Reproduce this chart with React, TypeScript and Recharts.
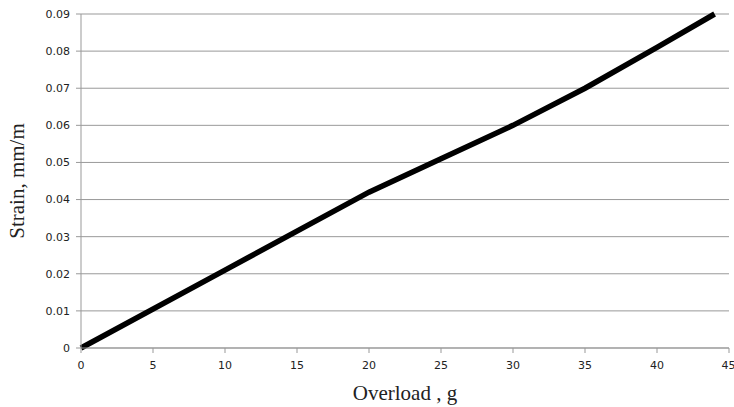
import { LineChart, Line, XAxis, YAxis, CartesianGrid, Label } from 'recharts';

const overload = [0, 10, 20, 25, 30, 35, 40, 44];
const strain = [0, 0.021, 0.042, 0.051, 0.06, 0.07, 0.081, 0.09];
const xTicks = [0, 5, 10, 15, 20, 25, 30, 35, 40, 45];
const yTicks = [0, 0.01, 0.02, 0.03, 0.04, 0.05, 0.06, 0.07, 0.08, 0.09];

const data = overload.map((g, i) => ({ g, strain: strain[i] }));

const tickStyle = { fontFamily: 'DejaVu Sans', fontSize: 11, fill: '#222' };
const titleStyle = { fontFamily: 'Liberation Serif', fontSize: 21, fill: '#222' };

export default function App() {
  return (
    <div style={{ position: 'absolute', left: 0, top: 0, background: '#fff' }}>
      <LineChart width={734} height={407} data={data} margin={{ top: 14, right: 5, bottom: 0, left: 0 }}>
        <CartesianGrid vertical={false} stroke="#999" strokeWidth={1} />
        <XAxis
          dataKey="g"
          type="number"
          domain={[0, 45]}
          ticks={xTicks}
          height={59}
          stroke="#999"
          tickSize={5}
          tick={tickStyle}
          tickMargin={8}
        >
          <Label value="Overload , g" position="insideBottom" offset={7} style={titleStyle} />
        </XAxis>
        <YAxis
          type="number"
          domain={[0, 0.09]}
          ticks={yTicks}
          width={81}
          stroke="#999"
          tickSize={5}
          tickMargin={6}
          tick={tickStyle}
          tickFormatter={(v: number) => (v === 0 ? '0' : v.toFixed(2))}
        >
          <Label
            value="Strain, mm/m"
            angle={-90}
            position="insideLeft"
            offset={17}
            style={{ ...titleStyle, textAnchor: 'middle' }}
          />
        </YAxis>
        <Line
          type="linear"
          dataKey="strain"
          stroke="#000"
          strokeWidth={5.5}
          dot={false}
          isAnimationActive={false}
        />
      </LineChart>
    </div>
  );
}
